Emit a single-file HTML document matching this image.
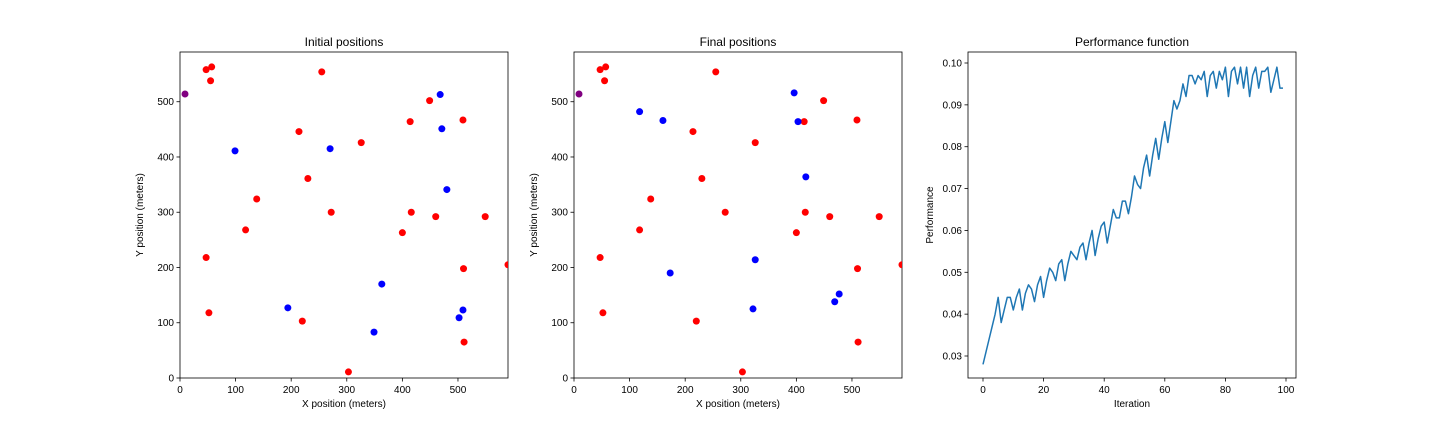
<!DOCTYPE html>
<html><head><meta charset="utf-8"><style>
body{margin:0;background:#fff;width:1440px;height:432px;overflow:hidden}
svg text{font-family:"Liberation Sans",sans-serif;fill:#000}
</style></head><body>
<svg id="c" width="1440" height="432"></svg>
<script>
const redX=[47,57,55,255,214,326,230,138,272,118,47,52,220,303,449,414,509,416,400,460,549,510,590,511];
const redY=[558,563,538,554,446,426,361,324,300,268,218,118,103,11,502,464,467,300,263,292,292,198,205,65];
const purpleX=[9],purpleY=[514];
const blueInitX=[99,270,468,471,480,194,363,349,502,509];
const blueInitY=[411,415,513,451,341,127,170,83,109,123];
const blueFinalX=[118,160,396,403,417,173,326,322,469,477];
const blueFinalY=[482,466,516,464,364,190,214,125,138,152];
const perf=[0.028,0.031,0.034,0.037,0.040,0.044,0.038,0.041,0.044,0.044,0.041,0.044,0.046,0.041,0.045,0.047,0.046,0.043,0.047,0.049,0.044,0.048,0.051,0.050,0.048,0.052,0.053,0.048,0.052,0.055,0.054,0.053,0.056,0.057,0.053,0.057,0.060,0.054,0.058,0.061,0.062,0.057,0.061,0.065,0.063,0.063,0.067,0.067,0.064,0.068,0.073,0.071,0.070,0.075,0.078,0.073,0.078,0.082,0.077,0.082,0.086,0.081,0.086,0.091,0.089,0.091,0.095,0.092,0.097,0.097,0.095,0.097,0.096,0.098,0.092,0.097,0.098,0.094,0.098,0.096,0.099,0.092,0.098,0.099,0.095,0.099,0.094,0.099,0.092,0.097,0.099,0.094,0.098,0.098,0.099,0.093,0.096,0.099,0.094,0.094];
const posTicks=[0,100,200,300,400,500];
const perfXTicks=[0,20,40,60,80,100];
const perfYTicks=[0.03,0.04,0.05,0.06,0.07,0.08,0.09,0.10];
const NS='http://www.w3.org/2000/svg';
const svg=document.getElementById('c');
function mk(t,a,p){const e=document.createElementNS(NS,t);for(const k in a)e.setAttribute(k,a[k]);(p||svg).appendChild(e);return e;}
const T=52,B=378;
function frame(L,R,title,xl,yl,xt,yt,sx,sy,xfmt,yfmt,name){
  const g=mk('g',{});
  
  
  const r=mk('rect',{x:L,y:T,width:R-L,height:B-T,fill:'none',stroke:'#000','stroke-width':0.8},g);
  
  const tt=mk('text',{x:(L+R)/2,y:46,'text-anchor':'middle','font-size':12},g);tt.textContent=title;
  
  xt.forEach(v=>{const x=sx(v);mk('line',{x1:x,x2:x,y1:B,y2:B+3.5,stroke:'#000','stroke-width':0.8},g);
    const t=mk('text',{x:x,y:B+15,'text-anchor':'middle','font-size':10},g);t.textContent=xfmt(v);
    });
  yt.forEach(v=>{const y=sy(v);mk('line',{x1:L-3.5,x2:L,y1:y,y2:y,stroke:'#000','stroke-width':0.8},g);
    const t=mk('text',{x:L-6,y:y+3.5,'text-anchor':'end','font-size':10},g);t.textContent=yfmt(v);
    });
  const xa=mk('text',{x:(L+R)/2,y:407,'text-anchor':'middle','font-size':10},g);xa.textContent=xl;
  
  const ya=mk('text',{x:0,y:0,'text-anchor':'middle','font-size':10,transform:`translate(${L-(yl==='Performance'?35:37)},${(T+B)/2}) rotate(-90)`},g);ya.textContent=yl;
  
  return g;
}
function scatter(L,R,bx,by,title,name){
  const sx=v=>L+v*(R-L)/590, sy=v=>B-v*(B-T)/590;
  const g=frame(L,R,title,'X position (meters)','Y position (meters)',posTicks,posTicks,sx,sy,v=>v,v=>v,name);
  const cp=mk('clipPath',{id:'cp'+L},g);mk('rect',{x:L,y:T,width:R-L,height:B-T},cp);
  const pts=mk('g',{'clip-path':`url(#cp${L})`},g);
  redX.forEach((v,i)=>{const c=mk('circle',{cx:sx(v),cy:sy(redY[i]),r:3.5,fill:'#ff0000'},pts);
    });
  bx.forEach((v,i)=>{const c=mk('circle',{cx:sx(v),cy:sy(by[i]),r:3.5,fill:'#0000ff'},pts);
    });
  purpleX.forEach((v,i)=>{const c=mk('circle',{cx:sx(v),cy:sy(purpleY[i]),r:3.5,fill:'#800080'},pts);
    });
}
scatter(180,508,blueInitX,blueInitY,'Initial positions','initial-positions-chart');
scatter(574,902,blueFinalX,blueFinalY,'Final positions','final-positions-chart');
(function(){
  const L=968,R=1296;
  const sx=v=>983+v*3.03, sy=v=>356-(v-0.03)*(293/0.07);
  const g=frame(L,R,'Performance function','Iteration','Performance',perfXTicks,perfYTicks,sx,sy,v=>v,v=>v.toFixed(2),'performance-chart');
  const p=mk('polyline',{points:perf.map((v,i)=>sx(i)+','+sy(v)).join(' '),fill:'none',stroke:'#1f77b4','stroke-width':1.5,'stroke-linejoin':'round'},g);
  
})();
</script>
</body></html>
